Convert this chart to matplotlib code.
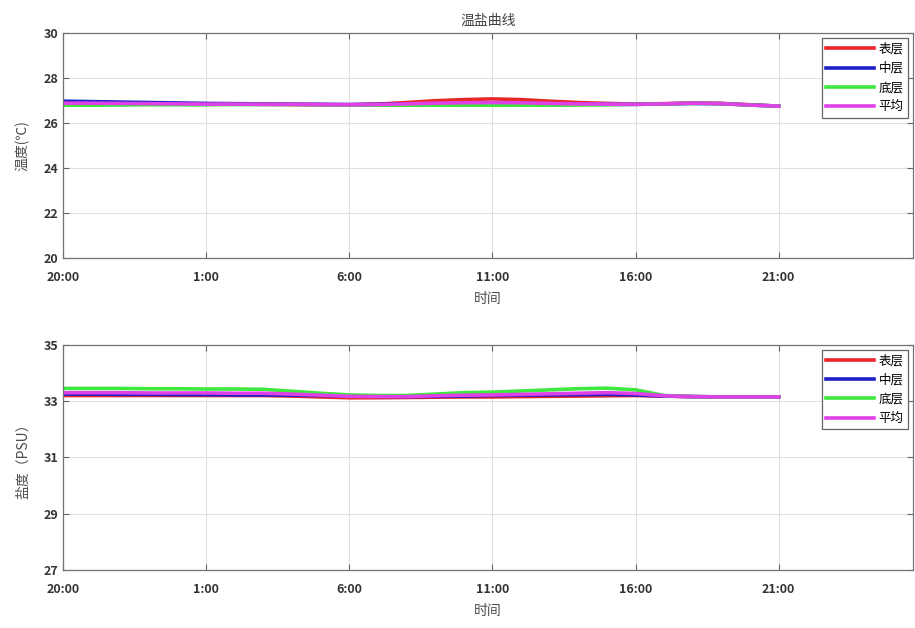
import matplotlib
matplotlib.use("Agg")
import matplotlib.pyplot as plt

plt.rcParams['font.family'] = ['Noto Sans CJK SC', 'DejaVu Sans']

# hours since 20:00 on day one
hours = list(range(26))
tick_pos = [0, 5, 10, 15, 20, 25]
tick_labels = ["20:00", "1:00", "6:00", "11:00", "16:00", "21:00"]
series_names = ["表层", "中层", "底层", "平均"]
series_colors = ["#e8262a", "#2020c8", "#3ee83e", "#e040e8"]

temp_surface = [26.90, 26.90, 26.90, 26.88, 26.87, 26.86, 26.85, 26.84, 26.83, 26.82, 26.82, 26.85, 26.92,
                27.00, 27.05, 27.08, 27.05, 26.98, 26.92, 26.88, 26.85, 26.87, 26.90, 26.88, 26.82, 26.76]
temp_middle = [26.98, 26.96, 26.94, 26.92, 26.90, 26.88, 26.87, 26.86, 26.85, 26.84, 26.83, 26.84, 26.85,
               26.86, 26.87, 26.88, 26.87, 26.86, 26.85, 26.84, 26.84, 26.86, 26.88, 26.87, 26.81, 26.76]
temp_bottom = [26.80, 26.80, 26.81, 26.82, 26.82, 26.82, 26.83, 26.83, 26.83, 26.82, 26.81, 26.80, 26.80,
               26.80, 26.80, 26.80, 26.80, 26.80, 26.81, 26.82, 26.84, 26.86, 26.88, 26.87, 26.81, 26.76]
temp_mean = [26.89, 26.89, 26.88, 26.87, 26.86, 26.85, 26.85, 26.84, 26.84, 26.83, 26.82, 26.83, 26.86,
             26.89, 26.91, 26.92, 26.91, 26.88, 26.86, 26.85, 26.84, 26.86, 26.89, 26.87, 26.81, 26.76]

sal_surface = [33.20, 33.20, 33.20, 33.20, 33.20, 33.20, 33.20, 33.20, 33.18, 33.15, 33.12, 33.12, 33.13,
               33.14, 33.15, 33.15, 33.16, 33.17, 33.18, 33.19, 33.20, 33.18, 33.16, 33.15, 33.15, 33.15]
sal_middle = [33.25, 33.25, 33.24, 33.24, 33.23, 33.23, 33.22, 33.22, 33.21, 33.20, 33.18, 33.17, 33.16,
              33.17, 33.18, 33.20, 33.21, 33.22, 33.23, 33.24, 33.22, 33.18, 33.16, 33.15, 33.15, 33.15]
sal_bottom = [33.45, 33.45, 33.45, 33.44, 33.44, 33.43, 33.43, 33.42, 33.35, 33.28, 33.22, 33.20, 33.20,
              33.25, 33.30, 33.32, 33.36, 33.40, 33.44, 33.46, 33.40, 33.20, 33.16, 33.15, 33.15, 33.15]
sal_mean = [33.30, 33.30, 33.30, 33.29, 33.29, 33.29, 33.28, 33.28, 33.25, 33.21, 33.17, 33.16, 33.16,
            33.19, 33.21, 33.22, 33.24, 33.26, 33.28, 33.30, 33.27, 33.19, 33.16, 33.15, 33.15, 33.15]

temp_ticks = [20, 22, 24, 26, 28, 30]
sal_ticks = [27, 29, 31, 33, 35]


def style_axis(ax, yticks, ylabel):
    ax.set_xlim(0, 29.7)
    ax.set_ylim(yticks[0], yticks[-1])
    ax.set_xticks(tick_pos)
    ax.set_xticklabels(tick_labels, fontsize=9, fontweight="bold", color="0.2")
    ax.set_yticks(yticks)
    ax.set_yticklabels([str(t) for t in yticks], fontsize=9, fontweight="bold", color="0.2")
    ax.tick_params(direction="in", top=True, right=True, length=4, color="0.4")
    ax.tick_params(axis="x", pad=9)
    ax.grid(True, color="0.88", linewidth=0.8)
    ax.set_axisbelow(True)
    for s in ax.spines.values():
        s.set_color("0.45")
        s.set_linewidth(0.9)
    ax.set_xlabel("时间", fontsize=10, color="0.3", labelpad=6)
    ax.set_ylabel(ylabel, fontsize=10, color="0.3", labelpad=10)
    leg = ax.legend(loc="upper right", fontsize=9, handlelength=3.8, borderpad=0.35,
                    labelspacing=0.5, handletextpad=0.4, fancybox=False, edgecolor="0.4",
                    framealpha=1, borderaxespad=0.4)
    leg.get_frame().set_linewidth(0.9)


fig = plt.figure(figsize=(9.15, 6.28), dpi=100)
ax1 = fig.add_axes([0.069, 0.589, 0.929, 0.358])
ax2 = fig.add_axes([0.069, 0.092, 0.929, 0.359])

for vals, name, col in zip([temp_surface, temp_middle, temp_bottom, temp_mean], series_names, series_colors):
    ax1.plot(hours, vals, color=col, linewidth=2.6, label=name)
style_axis(ax1, temp_ticks, "温度(℃)")
ax1.set_title("温盐曲线", fontsize=10, color="0.25", pad=6)

for vals, name, col in zip([sal_surface, sal_middle, sal_bottom, sal_mean], series_names, series_colors):
    ax2.plot(hours, vals, color=col, linewidth=2.6, label=name)
style_axis(ax2, sal_ticks, "盐度（PSU）")

fig.savefig("out.png", dpi=100)
